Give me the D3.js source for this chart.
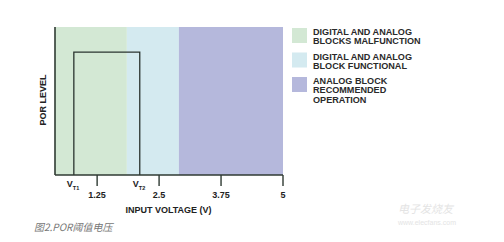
<!DOCTYPE html>
<html>
<head>
<meta charset="utf-8">
<script src="https://cdn.jsdelivr.net/npm/d3@7"></script>
<style>
  body { margin: 0; background: #fff; }
  svg { display: block; }
  text { font-family: "Liberation Sans", Arial, sans-serif; }
</style>
</head>
<body>
<div id="chart"></div>
<script>
// 数据
const regionStarts = [0.4, 1.85, 2.9];
const regionEnds = [1.85, 2.9, 5];
const regionColors = ['#d3e8d4', '#d4eaf0', '#b5b8dc'];
const legendLines = [
  ['DIGITAL AND ANALOG', 'BLOCKS MALFUNCTION'],
  ['DIGITAL AND ANALOG', 'BLOCK FUNCTIONAL'],
  ['ANALOG BLOCK', 'RECOMMENDED', 'OPERATION']
];
const tickValues = [1.25, 2.5, 3.75, 5];
const tickLabels = ['1.25', '2.5', '3.75', '5'];
const thresholdNames = ['T1', 'T2'];
const thresholdValues = [0.78, 2.11];
const porLevel = 0.83;

const width = 504, height = 242;
const margin = { top: 27, left: 55, right: 221, bottom: 67 };

const svg = d3.select('#chart').append('svg')
  .attr('width', width)
  .attr('height', height);

const x = d3.scaleLinear().domain([0.4, 5]).range([margin.left, width - margin.right]);
const y = d3.scaleLinear().domain([0, 1]).range([height - margin.bottom, margin.top]);

// 背景区域
svg.selectAll('rect.region')
  .data(regionStarts)
  .enter()
  .append('rect')
  .attr('class', 'region')
  .attr('x', (d, i) => x(d))
  .attr('y', y(1))
  .attr('width', (d, i) => x(regionEnds[i]) - x(d))
  .attr('height', y(0) - y(1))
  .attr('fill', (d, i) => regionColors[i]);

// POR 脉冲
const pulse = d3.line()([
  [x(thresholdValues[0]), y(0)],
  [x(thresholdValues[0]), y(porLevel)],
  [x(thresholdValues[1]), y(porLevel)],
  [x(thresholdValues[1]), y(0)]
]);
svg.append('path')
  .attr('d', pulse)
  .attr('fill', 'none')
  .attr('stroke', '#2b3530')
  .attr('stroke-width', 1.3);

// 坐标轴
const axisColor = '#2f3a33';
svg.append('line')
  .attr('x1', x(0.4)).attr('x2', x(0.4))
  .attr('y1', y(1)).attr('y2', y(0))
  .attr('stroke', axisColor).attr('stroke-width', 1.6);
svg.append('line')
  .attr('x1', x(0.4)).attr('x2', x(5))
  .attr('y1', y(0)).attr('y2', y(0))
  .attr('stroke', axisColor).attr('stroke-width', 1.6);

svg.selectAll('line.tick')
  .data(tickValues)
  .enter()
  .append('line')
  .attr('class', 'tick')
  .attr('x1', d => x(d)).attr('x2', d => x(d))
  .attr('y1', y(0)).attr('y2', y(0) + 11)
  .attr('stroke', axisColor).attr('stroke-width', 1.4);

svg.selectAll('text.ticklabel')
  .data(tickValues)
  .enter()
  .append('text')
  .attr('class', 'ticklabel')
  .attr('x', d => x(d))
  .attr('y', y(0) + 22.5)
  .attr('text-anchor', 'middle')
  .attr('font-size', 9)
  .attr('font-weight', 'bold')
  .attr('fill', '#222')
  .text((d, i) => tickLabels[i]);

// V_T1 / V_T2
const vt = svg.selectAll('text.vt')
  .data(thresholdValues)
  .enter()
  .append('text')
  .attr('class', 'vt')
  .attr('x', d => x(d) - 7)
  .attr('y', y(0) + 12)
  .attr('font-size', 9)
  .attr('font-weight', 'bold')
  .attr('fill', '#222');
vt.append('tspan').text('V');
vt.append('tspan')
  .attr('font-size', 5.5)
  .attr('dy', 2.5)
  .text((d, i) => thresholdNames[i]);

svg.append('text')
  .attr('x', x(2.69))
  .attr('y', y(0) + 37.5)
  .attr('text-anchor', 'middle')
  .attr('font-size', 9)
  .attr('font-weight', 'bold')
  .attr('fill', '#222')
  .text('INPUT VOLTAGE (V)');

svg.append('text')
  .attr('transform', `translate(46,${y(0.5) - 1}) rotate(-90)`)
  .attr('text-anchor', 'middle')
  .attr('font-size', 9)
  .attr('font-weight', 'bold')
  .attr('fill', '#222')
  .text('POR LEVEL');

// 图例
const legend = svg.selectAll('g.legend')
  .data(legendLines)
  .enter()
  .append('g')
  .attr('class', 'legend')
  .attr('transform', (d, i) => `translate(292,${28 + i * 24.5})`);

legend.append('rect')
  .attr('width', 15)
  .attr('height', 15)
  .attr('fill', (d, i) => regionColors[i]);

legend.each(function(lines) {
  const t = d3.select(this).append('text')
    .attr('font-size', 9.1)
    .attr('font-weight', 'bold')
    .attr('fill', '#2a2a2a');
  lines.forEach((line, j) => {
    t.append('tspan')
      .attr('x', 21)
      .attr('y', 7 + j * 9.3)
      .text(line);
  });
});

// 图注
svg.append('text')
  .attr('x', 34)
  .attr('y', 231)
  .attr('font-size', 10)
  .attr('font-style', 'italic')
  .attr('fill', '#777')
  .style('font-family', '"Noto Sans CJK SC", sans-serif')
  .text('图2.POR阈值电压');

// 水印
svg.append('text')
  .attr('x', 398)
  .attr('y', 213)
  .attr('font-size', 11)
  .attr('font-style', 'italic')
  .attr('fill', '#e4e4e4')
  .style('font-family', '"Noto Sans CJK SC", sans-serif')
  .text('电子发烧友');
svg.append('text')
  .attr('x', 398)
  .attr('y', 225)
  .attr('font-size', 7)
  .attr('fill', '#e4e4e4')
  .text('www.elecfans.com');
</script>
</body>
</html>
